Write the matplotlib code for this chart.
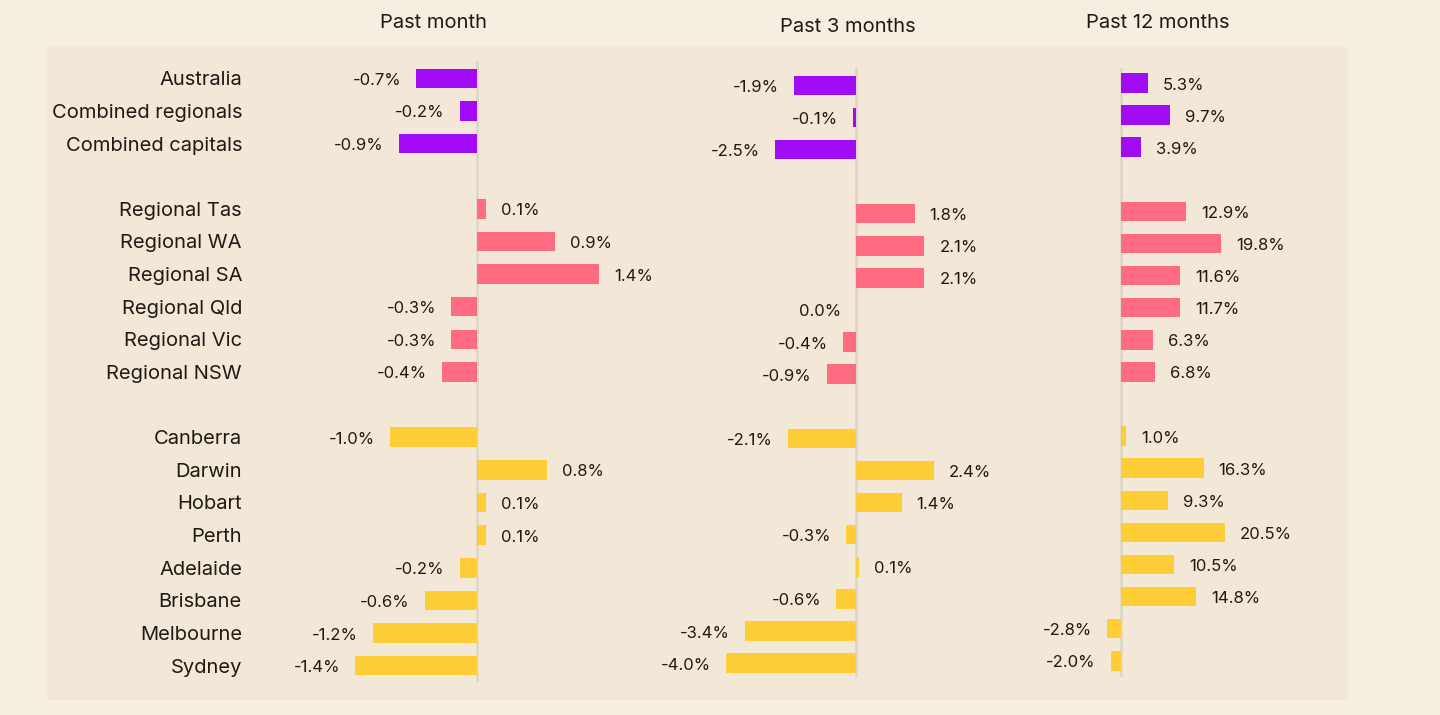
import matplotlib
matplotlib.use("Agg")
import matplotlib.pyplot as plt

plt.rcParams['font.family'] = ['Inter', 'DejaVu Sans']

# ---------------- data ----------------
categories = ["Australia", "Combined regionals", "Combined capitals",
              "Regional Tas", "Regional WA", "Regional SA", "Regional Qld", "Regional Vic", "Regional NSW",
              "Canberra", "Darwin", "Hobart", "Perth", "Adelaide", "Brisbane", "Melbourne", "Sydney"]
groups = ["national"] * 3 + ["regional"] * 6 + ["capital"] * 8

past_month = [-0.7, -0.2, -0.9,
              0.1, 0.9, 1.4, -0.3, -0.3, -0.4,
              -1.0, 0.8, 0.1, 0.1, -0.2, -0.6, -1.2, -1.4]
past_3_months = [-1.9, -0.1, -2.5,
                 1.8, 2.1, 2.1, 0.0, -0.4, -0.9,
                 -2.1, 2.4, 1.4, -0.3, 0.1, -0.6, -3.4, -4.0]
past_12_months = [5.3, 9.7, 3.9,
                  12.9, 19.8, 11.6, 11.7, 6.3, 6.8,
                  1.0, 16.3, 9.3, 20.5, 10.5, 14.8, -2.8, -2.0]
titles = ["Past month", "Past 3 months", "Past 12 months"]

group_colors = {"national": "#a10cf5", "regional": "#ff6b80", "capital": "#ffcd35"}

# ---------------- layout ----------------
W, H = 1440, 715
fig = plt.figure(figsize=(W / 100, H / 100), dpi=100)
fig.patch.set_facecolor("#f7eee2")

# inner panel background
bg = fig.add_axes([47 / W, 1 - 700 / H, (1348 - 47) / W, (700 - 46.5) / H], zorder=-10)
bg.set_facecolor("#f3e8d8")
bg.set_xticks([]); bg.set_yticks([])
for sp_ in bg.spines.values():
    sp_.set_visible(False)

# slot positions with a gap between groups
slots = []
s = 0
prev = groups[0]
for g in groups:
    if g != prev:
        s += 1
        prev = g
    slots.append(s)
    s += 1

# per-panel pixel geometry
panels = [
    (250, 700, 477, 87.0, 61, 682, 78.3, 32.63, 433, 23),
    (700, 1000, 856, 32.6, 68, 677, 85.3, 32.1, 848, 27),
    (1000, 1340, 1121, 5.07, 68, 677, 83.0, 32.1, 1158, 23),
]
datasets = [past_month, past_3_months, past_12_months]

for i, (geom, vals, title) in enumerate(zip(panels, datasets, titles)):
    left, right, zero, ppp, top, bot, s0, sp, tx, ty = geom
    ax = fig.add_axes([left / W, 1 - bot / H, (right - left) / W, (bot - top) / H])
    ax.set_facecolor("none")
    ax.set_xlim((left - zero) / ppp, (right - zero) / ppp)
    ax.set_ylim((bot - s0) / sp, (top - s0) / sp)
    for sp_ in ax.spines.values():
        sp_.set_visible(False)
    ax.set_xticks([])
    bh = 19.5 / sp
    cols = [group_colors[g] for g in groups]
    ax.barh(slots, vals, height=bh, color=cols, zorder=2)
    ax.axvline(0, color="#ddd5c8", lw=1.8, zorder=1)
    for v, y in zip(vals, slots):
        if v > 0:
            ax.annotate(f"{v:.1f}%", (v, y), xytext=(15, -2), textcoords="offset pixels",
                        ha="left", va="center", fontsize=12, color="#1e1a16")
        else:
            ax.annotate(f"{v:.1f}%", (v, y), xytext=(-15, -2), textcoords="offset pixels",
                        ha="right", va="center", fontsize=12, color="#1e1a16")
    if i == 0:
        ax.set_yticks(slots)
        ax.set_yticklabels(categories, fontsize=14.5, color="#1e1a16")
        ax.tick_params(axis="y", length=0, pad=(left - 242) * 0.72)
    else:
        ax.set_yticks([])
    fig.text(tx / W, 1 - ty / H, title, ha="center", va="center", fontsize=14.5, color="#1e1a16")

fig.savefig("out.png", dpi=100, facecolor=fig.get_facecolor())
